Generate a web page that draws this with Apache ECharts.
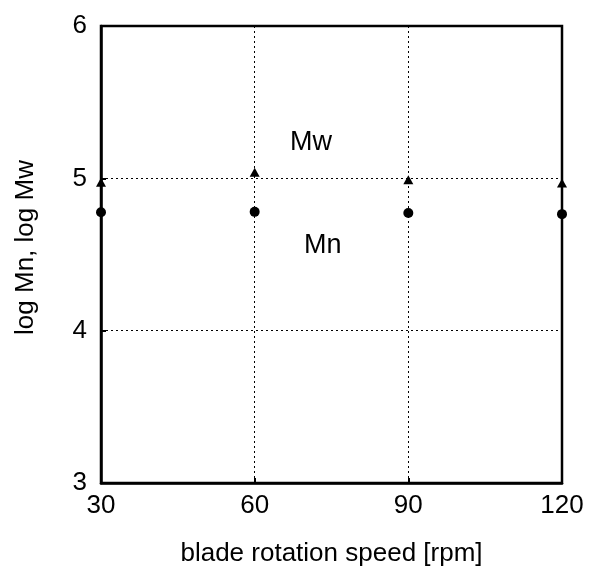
<!DOCTYPE html>
<html><head><meta charset="utf-8">
<script src="https://cdn.jsdelivr.net/npm/echarts@6/dist/echarts.min.js"></script>
<style>html,body{margin:0;padding:0;background:#fff}#c{width:590px;height:573px}</style>
</head><body><div id="c"></div>
<script>
const speeds = [30, 60, 90, 120];
const logMw = [4.975, 5.04, 4.99, 4.97];
const logMn = [4.777, 4.78, 4.773, 4.765];
const xTicks = [30, 60, 90, 120];
const yTicks = [3, 4, 5, 6];
const annotations = [
  {text: 'Mw', x: 71.0, y: 5.232},
  {text: 'Mn', x: 73.3, y: 4.562}
];

const font = '"Liberation Sans", Arial, sans-serif';
const FS = 26;
const chart = echarts.init(document.getElementById('c'), null, {renderer: 'canvas'});
const axisCommon = {
  axisLine: {show: true, lineStyle: {color: '#000', width: 2.5}},
  axisTick: {show: true, inside: true, length: 5, lineStyle: {color: '#000', width: 2}},
  splitLine: {show: true, lineStyle: {color: '#000', type: [2, 3], width: 1}},
  axisLabel: {color: '#000', fontSize: FS, fontFamily: font}
};
chart.setOption({
  animation: false,
  backgroundColor: '#fff',
  grid: {left: 101, right: 28, top: 26, bottom: 90, show: true, borderColor: '#000', borderWidth: 2.5, containLabel: false},
  xAxis: Object.assign({}, axisCommon, {
    type: 'value', min: 30, max: 120, interval: 30,
    axisLabel: Object.assign({}, axisCommon.axisLabel, {margin: 10, formatter: v => xTicks.includes(v) ? String(v) : ''}),
    name: 'blade rotation speed [rpm]', nameLocation: 'middle', nameGap: 58,
    nameTextStyle: {color: '#000', fontSize: FS, fontFamily: font}
  }),
  yAxis: Object.assign({}, axisCommon, {
    type: 'value', min: 3, max: 6, interval: 1,
    axisLabel: Object.assign({}, axisCommon.axisLabel, {margin: 14, formatter: v => yTicks.includes(v) ? String(v) : ''}),
    name: 'log Mn, log Mw', nameLocation: 'middle', nameGap: 62, nameRotate: 90,
    nameTextStyle: {color: '#000', fontSize: FS, fontFamily: font, padding: [0, 0, 0, 14]}
  }),
  series: [
    {
      type: 'scatter', name: 'Mw', symbol: 'triangle', symbolSize: [10, 9],
      itemStyle: {color: '#000', opacity: 1},
      data: speeds.map((s, i) => [s, logMw[i]])
    },
    {
      type: 'scatter', name: 'Mn', symbol: 'circle', symbolSize: 10,
      itemStyle: {color: '#000', opacity: 1},
      data: speeds.map((s, i) => [s, logMn[i]])
    },
    {
      type: 'scatter', name: 'labels', symbol: 'circle', symbolSize: 2,
      itemStyle: {color: 'rgba(0,0,0,0)', opacity: 1},
      silent: true,
      label: {show: true, position: 'inside', formatter: p => p.data.name, color: '#000', opacity: 1, fontSize: 27, fontFamily: font},
      data: annotations.map(a => ({name: a.text, value: [a.x, a.y]}))
    }
  ]
});
</script></body></html>
